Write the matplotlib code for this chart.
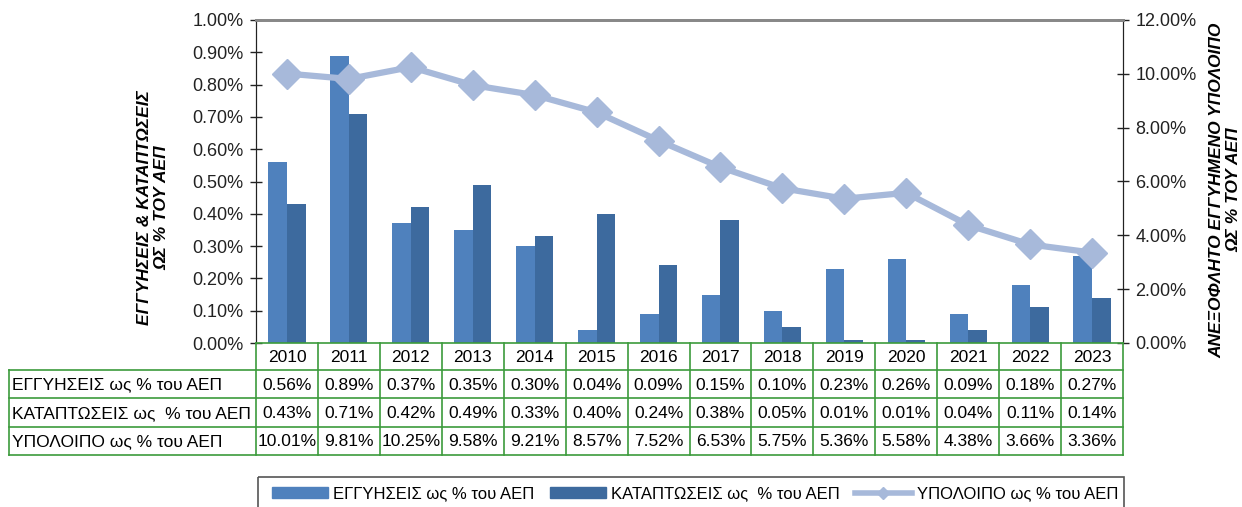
import matplotlib
matplotlib.use('Agg')
import matplotlib.pyplot as plt
from matplotlib.lines import Line2D
from matplotlib.patches import Rectangle
import numpy as np

plt.rcParams['font.family'] = ['Liberation Sans', 'DejaVu Sans']

years = ['2010', '2011', '2012', '2013', '2014', '2015', '2016',
         '2017', '2018', '2019', '2020', '2021', '2022', '2023']
guarantees = [0.56, 0.89, 0.37, 0.35, 0.30, 0.04, 0.09, 0.15, 0.10, 0.23, 0.26, 0.09, 0.18, 0.27]
defaults = [0.43, 0.71, 0.42, 0.49, 0.33, 0.40, 0.24, 0.38, 0.05, 0.01, 0.01, 0.04, 0.11, 0.14]
balance = [10.01, 9.81, 10.25, 9.58, 9.21, 8.57, 7.52, 6.53, 5.75, 5.36, 5.58, 4.38, 3.66, 3.36]
row_labels = ['ΕΓΓΥΗΣΕΙΣ ως % του ΑΕΠ', 'ΚΑΤΑΠΤΩΣΕΙΣ ως  % του ΑΕΠ', 'ΥΠΟΛΟΙΠΟ ως % του ΑΕΠ']

c_guar = '#4F81BD'
c_def = '#3D6A9E'
c_line = '#A7B9DA'
c_grid = '#3C9B3C'

W, H = 1242, 507
fig = plt.figure(figsize=(W / 100, H / 100), dpi=100)

# plot area in pixels
px_l, px_r, px_t, px_b = 256, 1123, 20, 343
ax = fig.add_axes([px_l / W, 1 - px_b / H, (px_r - px_l) / W, (px_b - px_t) / H])
ax2 = ax.twinx()

x = np.arange(len(years))
bw = 0.3
ax.bar(x - bw / 2, guarantees, bw, color=c_guar, zorder=2)
ax.bar(x + bw / 2, defaults, bw, color=c_def, zorder=2)
ax.set_xlim(-0.5, len(years) - 0.5)
ax.set_ylim(0, 1.0)
ax.set_yticks(np.arange(0, 1.01, 0.1))
ax.set_yticklabels([f'{v:.2f}%' for v in np.arange(0, 1.01, 0.1)])
ax.set_xticks([])

ax2.plot(x, balance, color=c_line, lw=4.5, marker='D', ms=15, zorder=3)
ax2.set_ylim(0, 12)
ax2.set_yticks(np.arange(0, 12.01, 2))
ax2.set_yticklabels([f'{v:.2f}%' for v in np.arange(0, 12.01, 2)])

for a in (ax, ax2):
    a.tick_params(axis='y', direction='inout', length=8, width=1, labelsize=13, colors='#222222', pad=5)
    a.spines['top'].set_color('#888888')
    a.spines['top'].set_linewidth(2)
    a.spines['bottom'].set_visible(False)
    a.spines['left'].set_color('#222222')
    a.spines['right'].set_color('#222222')

fig.text(153 / W, 1 - 208 / H, 'ΕΓΓΥΗΣΕΙΣ & ΚΑΤΑΠΤΩΣΕΙΣ\nΩΣ % ΤΟΥ ΑΕΠ', rotation=90,
         ha='center', va='center', fontsize=12.5, fontweight='bold', style='italic',
         linespacing=1.15)
fig.text(1225 / W, 1 - 190 / H, 'ΑΝΕΞΟΦΛΗΤΟ ΕΓΓΥΗΜΕΝΟ ΥΠΟΛΟΙΠΟ\nΩΣ % ΤΟΥ ΑΕΠ', rotation=90,
         ha='center', va='center', fontsize=12.5, fontweight='bold', style='italic',
         linespacing=1.15)

# data table under the plot, drawn in pixel coordinates
tab = fig.add_axes([0, 0, 1, 1], facecolor='none')
tab.set_xlim(0, W)
tab.set_ylim(H, 0)
tab.axis('off')

col_w = (px_r - px_l) / len(years)
row_y = [343, 370, 398, 427, 455]
lbl_l = 9

# header row with years
for i, yr in enumerate(years):
    x0 = px_l + i * col_w
    tab.text(x0 + col_w / 2, (row_y[0] + row_y[1]) / 2 + 1, yr, ha='center', va='center', fontsize=12.5)

rows = [[f'{v:.2f}%' for v in guarantees],
        [f'{v:.2f}%' for v in defaults],
        [f'{v:.2f}%' for v in balance]]
for r, (lbl, vals) in enumerate(zip(row_labels, rows)):
    yc = (row_y[r + 1] + row_y[r + 2]) / 2 + 1
    tab.text(lbl_l + 3, yc, lbl, ha='left', va='center', fontsize=12.5)
    for i, v in enumerate(vals):
        tab.text(px_l + (i + 0.5) * col_w, yc, v, ha='center', va='center', fontsize=12.5)

# grid lines
for i in range(len(years) + 1):
    xx = px_l + i * col_w
    tab.plot([xx, xx], [row_y[0], row_y[-1]], color=c_grid, lw=1.2)
tab.plot([px_l, px_r], [row_y[0], row_y[0]], color=c_grid, lw=1.2)
for yy in row_y[1:]:
    tab.plot([lbl_l, px_r], [yy, yy], color=c_grid, lw=1.2)
tab.plot([lbl_l, lbl_l], [row_y[1], row_y[-1]], color=c_grid, lw=1.2)

# legend
tab.add_patch(Rectangle((258, 477), 866, 40, fill=False, edgecolor='#555555', lw=1.2))
handles = [Rectangle((0, 0), 1, 1, color=c_guar),
           Rectangle((0, 0), 1, 1, color=c_def),
           Line2D([], [], color=c_line, lw=4, marker='D', ms=6)]
fig.legend(handles, row_labels, loc='center', bbox_to_anchor=(695 / W, 1 - 494 / H),
           ncol=3, frameon=False, fontsize=12, handlelength=3.4, handleheight=0.6,
           handletextpad=0.3, columnspacing=0.9)

fig.savefig('out.png', dpi=100)
plt.close(fig)
